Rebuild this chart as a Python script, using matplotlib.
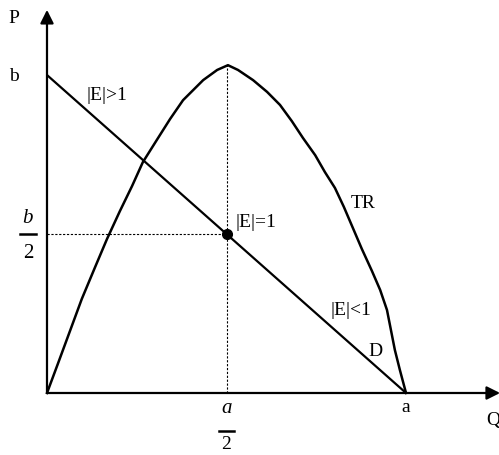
import matplotlib as mpl
import matplotlib.pyplot as plt

# Demand line end points (a on Q axis, b on P axis)
a = 10.0
b = 10.0

# TR curve
tr_q = [0, 0.31, 0.64, 0.97, 1.34, 1.67, 2.03, 2.37, 2.67, 3.06, 3.43, 3.79,
        4.35, 4.74, 5.04, 5.32, 5.74, 6.13, 6.49, 6.82, 7.13, 7.47, 7.74,
        8.02, 8.27, 8.52, 8.77, 9.05, 9.28, 9.47, 9.58, 9.69, 9.83, 10.0]
tr_p = [0, 0.94, 1.95, 2.96, 3.96, 4.84, 5.72, 6.51, 7.26, 7.96, 8.62, 9.21,
        9.84, 10.16, 10.31, 10.16, 9.84, 9.47, 9.06, 8.55, 8.02, 7.48, 6.95,
        6.45, 5.85, 5.19, 4.53, 3.84, 3.24, 2.61, 1.98, 1.35, 0.72, 0]

mpl.rcParams['font.family'] = 'Liberation Serif'
mpl.rcParams['font.size'] = 14

fig = plt.figure(figsize=(4.99, 4.55), dpi=100)
ax = fig.add_axes([0, 0, 1, 1])
ax.set_xlim(-1.309, 12.59)
ax.set_ylim(-1.95, 12.36)
ax.axis('off')

# Axes with arrows
arrow = dict(arrowstyle='-|>', lw=1.6, color='black', mutation_scale=20,
             shrinkA=0, shrinkB=0)
ax.annotate('', xy=(0, 12.05), xytext=(0, 0), arrowprops=arrow)
ax.annotate('', xy=(12.62, 0), xytext=(0, 0), arrowprops=arrow,
            annotation_clip=False)

# Demand and TR
ax.plot([0, a], [b, 0], color='black', lw=1.6, solid_capstyle='butt')
ax.plot(tr_q, tr_p, color='black', lw=1.8, solid_joinstyle='round')

# Guides at the unit-elastic point
ax.plot([a / 2, a / 2], [0, max(tr_p)], color='black', lw=0.8,
        linestyle=(0, (2, 1.5)))
ax.plot([0, a / 2], [b / 2, b / 2], color='black', lw=0.8,
        linestyle=(0, (2, 1.5)))
ax.plot([a / 2], [b / 2], 'o', color='black', ms=7)

# Labels
ax.text(-0.92, 11.79, 'P', ha='center', va='center')
ax.text(12.42, -0.85, 'Q', ha='center', va='center')
ax.text(-0.92, 9.94, 'b', ha='center', va='center')
ax.text(a, -0.47, 'a', ha='center', va='center')
ax.text(1.11, 9.37, '|E|>1', ha='left', va='center')
ax.text(5.24, 5.35, '|E|=1', ha='left', va='center')
ax.text(8.80, 5.97, 'TR', ha='center', va='center')
ax.text(7.91, 2.61, '|E|<1', ha='left', va='center')
ax.text(8.94, 1.29, 'D', ha='left', va='center')

# b/2 fraction
ax.text(-0.53, 5.50, 'b', style='italic', ha='center', va='center', fontsize=15)
ax.plot([-0.75, -0.31], [b / 2, b / 2], color='black', lw=1.8)
ax.text(-0.53, 4.38, '2', ha='center', va='center', fontsize=15)

# a/2 fraction
ax.text(a / 2, -0.50, 'a', style='italic', ha='center', va='center', fontsize=15)
ax.plot([a / 2 - 0.21, a / 2 + 0.21], [-1.19, -1.19], color='black', lw=1.8,
        clip_on=False)
ax.text(a / 2, -1.62, '2', ha='center', va='center', fontsize=14)

plt.savefig('out.png', dpi=100)
